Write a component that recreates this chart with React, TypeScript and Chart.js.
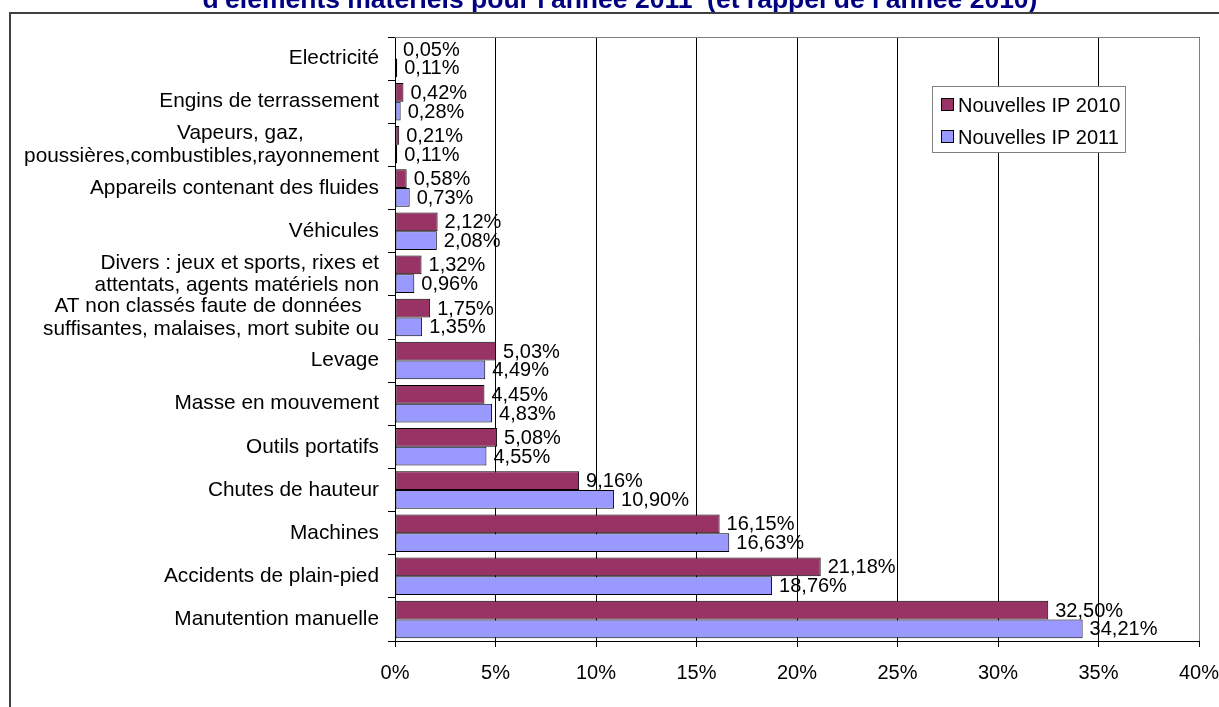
import React, { useEffect, useRef } from "react";
import { Chart, registerables } from "chart.js";

Chart.register(...registerables);

const categories: (string | string[])[] = [
  "Electricité",
  "Engins de terrassement",
  ["Vapeurs, gaz,             ", "poussières,combustibles,rayonnement"],
  "Appareils contenant des fluides",
  "Véhicules",
  ["Divers : jeux et sports, rixes et", "attentats, agents matériels non"],
  ["AT non classés faute de données   ", "suffisantes, malaises, mort subite ou"],
  "Levage",
  "Masse en mouvement",
  "Outils portatifs",
  "Chutes de hauteur",
  "Machines",
  "Accidents de plain-pied",
  "Manutention manuelle",
];

const ip2010 = [0.05, 0.42, 0.21, 0.58, 2.12, 1.32, 1.75, 5.03, 4.45, 5.08, 9.16, 16.15, 21.18, 32.5];
const ip2011 = [0.11, 0.28, 0.11, 0.73, 2.08, 0.96, 1.35, 4.49, 4.83, 4.55, 10.9, 16.63, 18.76, 34.21];

const seriesLabels = ["Nouvelles IP 2010", "Nouvelles IP 2011"];
const seriesColors = ["#993366", "#9999FF"];
const titleText = "d'éléments matériels pour l'année 2011  (et rappel de l'année 2010)";

const FONT = "'Liberation Sans', Arial, sans-serif";

const fmt = (v: number) => v.toFixed(2).replace(".", ",") + "%";

const decorPlugin = {
  id: "decor",
  beforeDraw(chart: any) {
    const { ctx, width, height } = chart;
    ctx.save();
    ctx.fillStyle = "#ffffff";
    ctx.fillRect(0, 0, width, height);
    // title (partially cut off at top)
    ctx.fillStyle = "#000080";
    ctx.font = `bold 26.5px ${FONT}`;
    ctx.textAlign = "center";
    ctx.textBaseline = "alphabetic";
    ctx.fillText(titleText, 620, 8);
    // outer frame
    ctx.strokeStyle = "#404040";
    ctx.lineWidth = 2;
    ctx.beginPath();
    ctx.moveTo(10, height + 2);
    ctx.lineTo(10, 13);
    ctx.lineTo(width + 2, 13);
    ctx.stroke();
    ctx.restore();
  },
  afterDraw(chart: any) {
    const { ctx, chartArea } = chart;
    ctx.save();
    // plot area border top/right
    ctx.strokeStyle = "#808080";
    ctx.lineWidth = 1;
    ctx.beginPath();
    ctx.moveTo(chartArea.left, Math.round(chartArea.top) + 0.5);
    ctx.lineTo(Math.round(chartArea.right) + 0.5, Math.round(chartArea.top) + 0.5);
    ctx.lineTo(Math.round(chartArea.right) + 0.5, chartArea.bottom);
    ctx.stroke();

    // data labels
    ctx.fillStyle = "#000";
    ctx.font = `20px ${FONT}`;
    ctx.textAlign = "left";
    ctx.textBaseline = "middle";
    chart.data.datasets.forEach((ds: any, di: number) => {
      const meta = chart.getDatasetMeta(di);
      meta.data.forEach((bar: any, i: number) => {
        ctx.fillText(fmt(ds.data[i]), bar.x + 7, bar.y + 1);
      });
    });

    // legend
    const lx = 932, ly = 86, lw = 193, lh = 66;
    ctx.fillStyle = "#fff";
    ctx.fillRect(lx, ly, lw, lh);
    ctx.strokeStyle = "#808080";
    ctx.strokeRect(lx + 0.5, ly + 0.5, lw, lh);
    ctx.font = `20px ${FONT}`;
    ctx.textBaseline = "middle";
    chart.data.datasets.forEach((ds: any, di: number) => {
      const cy = 105 + di * 32;
      ctx.fillStyle = ds.backgroundColor;
      ctx.fillRect(941, cy - 6, 12, 12);
      ctx.strokeStyle = "#000";
      ctx.strokeRect(941.5, cy - 6.5, 12, 12);
      ctx.fillStyle = "#000";
      ctx.fillText(ds.label, 958, cy + 1);
    });
    ctx.restore();
  },
};

export default function App() {
  const ref = useRef<HTMLCanvasElement>(null);
  useEffect(() => {
    if (!ref.current) return;
    const chart = new Chart(ref.current, {
      type: "bar",
      data: {
        labels: categories as any,
        datasets: [
          {
            label: seriesLabels[0],
            data: ip2010,
            backgroundColor: seriesColors[0],
            borderColor: "#000",
            borderWidth: 1,
            borderSkipped: false,
            categoryPercentage: 0.87,
            barPercentage: 1,
          },
          {
            label: seriesLabels[1],
            data: ip2011,
            backgroundColor: seriesColors[1],
            borderColor: "#000",
            borderWidth: 1,
            borderSkipped: false,
            categoryPercentage: 0.87,
            barPercentage: 1,
          },
        ],
      },
      options: {
        indexAxis: "y",
        animation: false,
        responsive: false,
        devicePixelRatio: 1,
        layout: { padding: { top: 37, right: 0, left: 0, bottom: 0 } },
        plugins: {
          legend: { display: false },
          title: { display: false },
          tooltip: { enabled: false },
        },
        scales: {
          x: {
            min: 0,
            max: 40,
            ticks: {
              stepSize: 5,
              callback: (v: any) => v + "%",
              color: "#000",
              font: { family: FONT, size: 20 },
              padding: 14,
              maxRotation: 0,
            },
            grid: { color: "#000", lineWidth: 1, tickLength: 6, drawOnChartArea: true },
            border: { color: "#000", width: 1 },
            afterFit: (s: any) => {
              s.height = 66;
              s.paddingRight = 20;
              s.paddingLeft = 0;
            },
          },
          y: {
            ticks: {
              color: "#000",
              font: { family: FONT, size: 20.8, lineHeight: 1.1 },
              padding: 9,
              autoSkip: false,
            },
            grid: { drawOnChartArea: false, color: "#000", tickLength: 7, offset: true },
            border: { color: "#000", width: 1 },
            afterFit: (s: any) => {
              s.width = 395;
              s.paddingTop = 0;
              s.paddingBottom = 0;
            },
          },
        },
      },
      plugins: [decorPlugin],
    } as any);
    return () => chart.destroy();
  }, []);
  return (
    <div style={{ position: "absolute", left: 0, top: 0, width: 1219, height: 707 }}>
      <canvas ref={ref} width={1219} height={707} style={{ display: "block" }} />
    </div>
  );
}
